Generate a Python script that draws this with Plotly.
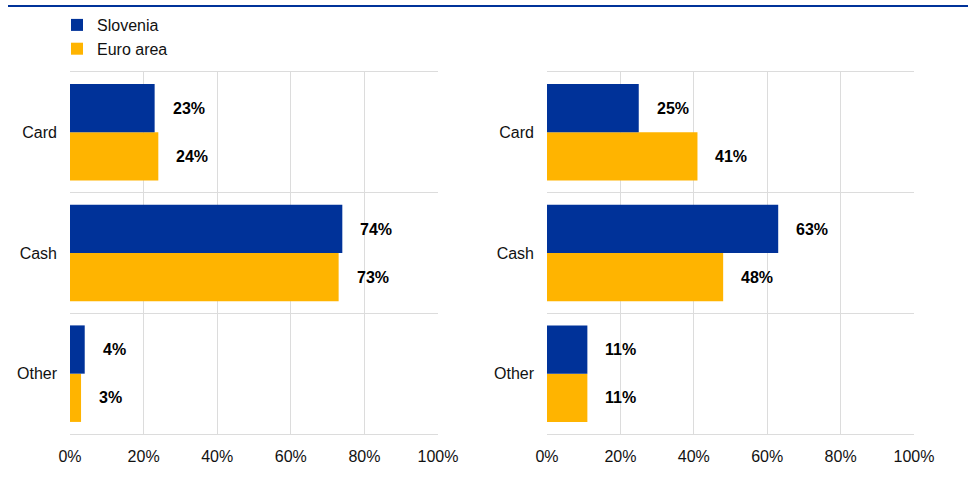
import plotly.graph_objects as go
from plotly.subplots import make_subplots

categories = ["Card", "Cash", "Other"]
series_names = ["Slovenia", "Euro area"]
left_slovenia = [23, 74, 4]
left_euro = [24, 73, 3]
right_slovenia = [25, 63, 11]
right_euro = [41, 48, 11]
x_tickvals = [0, 20, 40, 60, 80, 100]
x_ticktext = ["0%", "20%", "40%", "60%", "80%", "100%"]

BLUE = "#003299"
YELLOW = "#FFB400"
GRID = "#dcdcdc"
FONT = "Arial, Liberation Sans, sans-serif"

fig = make_subplots(rows=1, cols=2, horizontal_spacing=0.1)

panels = [(1, left_slovenia, left_euro, True), (2, right_slovenia, right_euro, False)]
for col, slo, euro, show in panels:
    fig.add_trace(go.Bar(y=categories, x=euro, orientation="h", name=series_names[1],
                         marker=dict(color=YELLOW, line=dict(width=0)),
                         showlegend=show, hoverinfo="skip"), row=1, col=col)
    fig.add_trace(go.Bar(y=categories, x=slo, orientation="h", name=series_names[0],
                         marker=dict(color=BLUE, line=dict(width=0)),
                         showlegend=show, hoverinfo="skip"), row=1, col=col)

annotations = []
for col, slo, euro, _ in panels:
    xref = "x" if col == 1 else "x2"
    yref = "y" if col == 1 else "y2"
    for vals, ys in ((slo, 24), (euro, -24)):
        for cat, v in zip(categories, vals):
            annotations.append(dict(x=v, y=cat, xref=xref, yref=yref, text=f"<b>{v}%</b>",
                                    showarrow=False, xanchor="left", xshift=16, yshift=ys,
                                    font=dict(family=FONT, size=16, color="#000000")))

# body margin is removed via post_script, so figure coordinates == page coordinates
W, H = 968, 480
TOP = 72
BOT = 434
PH = BOT - TOP
x_domains = [[70 / W, 438 / W], [547 / W, 914 / W]]
for i, dom in enumerate(x_domains, start=1):
    fig.update_xaxes(domain=dom, range=[0, 100], tickvals=x_tickvals, ticktext=x_ticktext,
                     showgrid=True, gridcolor=GRID, gridwidth=1, zeroline=False,
                     showline=True, mirror=True, linecolor=GRID, linewidth=1,
                     ticks="", ticklabelstandoff=8, automargin=False, fixedrange=True,
                     tickfont=dict(family=FONT, size=16, color="#111111"),
                     row=1, col=i)
    fig.update_yaxes(categoryorder="array", categoryarray=categories[::-1],
                     range=[-0.5, 2.5], tickson="boundaries", showgrid=True,
                     gridcolor=GRID, gridwidth=1, zeroline=False, showline=False,
                     ticks="", ticklabelstandoff=12, automargin=False, fixedrange=True,
                     tickfont=dict(family=FONT, size=16, color="#111111"),
                     row=1, col=i)

fig.update_layout(
    width=W, height=H,
    margin=dict(l=0, r=0, t=TOP, b=H - BOT),
    barmode="group", bargap=0.2, bargroupgap=0,
    plot_bgcolor="white", paper_bgcolor="white",
    font=dict(family=FONT, size=16, color="#111111"),
    legend=dict(x=57 / W, y=(BOT - 8) / PH, xanchor="left", yanchor="top",
                traceorder="reversed", bgcolor="rgba(0,0,0,0)",
                font=dict(family=FONT, size=16, color="#111111"),
                itemclick=False, itemdoubleclick=False),
    annotations=annotations,
    shapes=[dict(type="line", xref="paper", yref="paper", x0=8 / W, x1=1.0,
                 y0=(BOT - 6) / PH, y1=(BOT - 6) / PH,
                 line=dict(color=BLUE, width=2))],
)

fig.write_html("out.html", config={"displayModeBar": False},
               post_script="document.body.style.margin='0px';")
